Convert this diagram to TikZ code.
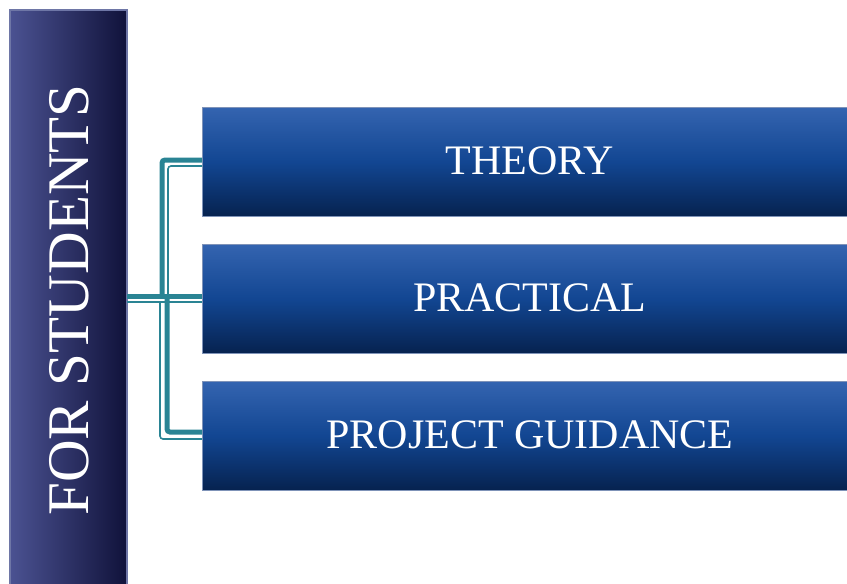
\documentclass[tikz,border=0pt]{standalone}
\usepackage{fontspec}
\setmainfont{Liberation Serif}
\begin{document}
\begin{tikzpicture}[x=1pt,y=-1pt]
\definecolor{barL}{HTML}{4B5292}
\definecolor{barR}{HTML}{10123A}
\definecolor{barEdge}{HTML}{6E76A6}
\definecolor{boxT}{HTML}{3464B0}
\definecolor{boxM}{HTML}{124692}
\definecolor{boxB}{HTML}{06224F}
\definecolor{boxEdge}{HTML}{7F93B8}
\definecolor{teal}{HTML}{2A8494}
\tikzset{
  bar/.style={draw=barEdge, line width=1.2pt, left color=barL, right color=barR, shading angle=90},
  itembox/.style={draw=boxEdge, line width=0.8pt, top color=boxT, bottom color=boxB, middle color=boxM,
    minimum width=645pt, minimum height=109pt, inner sep=0pt, anchor=north west},
  itemtext/.style={text=white, font=\fontsize{42}{42}\selectfont, inner sep=0pt},
  thickcon/.style={draw=teal, line width=5pt, rounded corners=3pt},
  thincon/.style={draw=teal, line width=1.6pt, rounded corners=3pt}
}
\useasboundingbox (0,0) rectangle (847,584);
\fill[white] (0,0) rectangle (847,584);
% left bar
\path[bar] (10,10) rectangle (127,590);
\node[text=white, rotate=90, font=\fontsize{59}{59}\selectfont, inner sep=0pt] (bar) at (69,300) {FOR STUDENTS};
\coordinate (barE) at (127,296);
% boxes
\node[itembox] (b1) at (202,107) {};
\node[itembox] (b2) at (202,244) {};
\node[itembox] (b3) at (202,381) {};
\node[itemtext] (t1) at ([xshift=5pt,yshift=1pt]b1.center) {THEORY};
\node[itemtext] (t2) at ([xshift=5pt,yshift=1pt]b2.center) {PRACTICAL};
\node[itemtext] (t3) at ([xshift=5pt,yshift=1pt]b3.center) {PROJECT GUIDANCE};
% connectors
\draw[thickcon] (barE) -- (b2.west |- barE);
\draw[thincon] (127,302) -- (b2.west |- 0,302);
\draw[thickcon] (162,296) -- (162,160) -- (b1.west |- 0,160);
\draw[thincon] (168,299) -- (168,166) -- (b1.west |- 0,166);
\draw[thickcon] (167,296) -- (167,432) -- (b3.west |- 0,432);
\draw[thincon] (160,302) -- (160,439) -- (b3.west |- 0,439);
\end{tikzpicture}
\end{document}
